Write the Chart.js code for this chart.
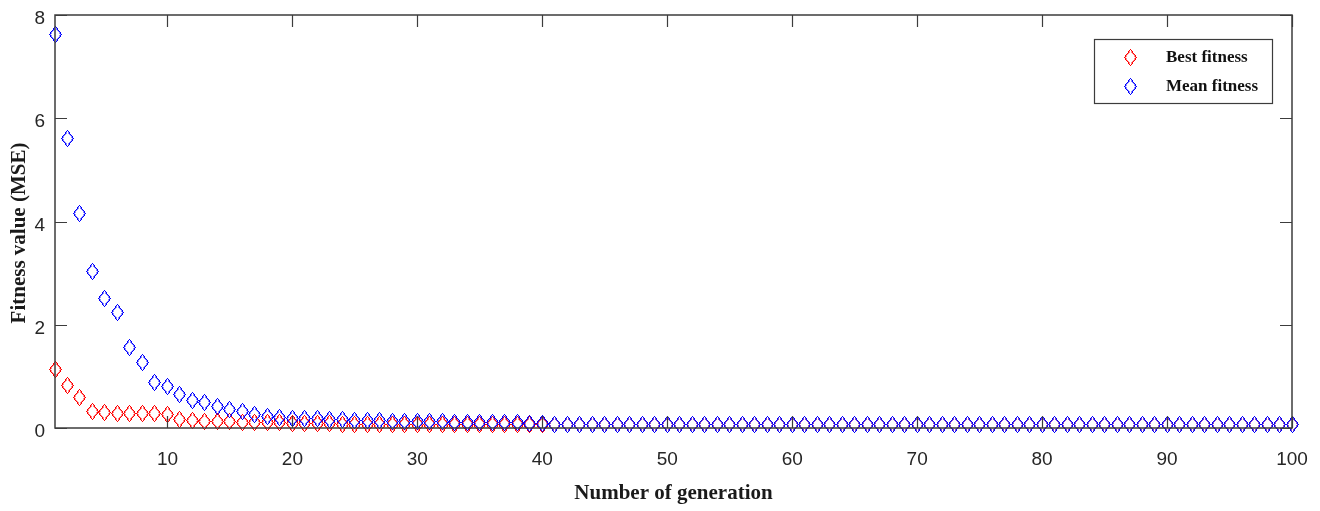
<!DOCTYPE html>
<html lang="en">
<head>
<meta charset="utf-8">
<script src="https://cdn.jsdelivr.net/npm/chart.js@4.4.1/dist/chart.umd.min.js"></script>
<style>
    html, body { margin: 0; padding: 0; background: #fff; }
    #wrap { width: 1320px; height: 511px; }
</style>
</head>
<body>
<div id="wrap">
    <canvas id="content"></canvas>
</div>
<script>
    // fitness per generation
    var bestFitness = [
        1.14, 0.83, 0.60, 0.31, 0.30, 0.29, 0.29, 0.28, 0.28, 0.26,
        0.16, 0.15, 0.13, 0.12, 0.12, 0.11, 0.11, 0.10, 0.10, 0.09,
        0.09, 0.08, 0.08, 0.07, 0.07, 0.06, 0.06, 0.06, 0.06, 0.06,
        0.06, 0.06, 0.06, 0.06, 0.06, 0.06, 0.06, 0.06, 0.06, 0.06,
        0.07, 0.07, 0.07, 0.07, 0.07, 0.07, 0.07, 0.07, 0.07, 0.07,
        0.07, 0.07, 0.07, 0.07, 0.07, 0.07, 0.07, 0.07, 0.07, 0.07,
        0.07, 0.07, 0.07, 0.07, 0.07, 0.07, 0.07, 0.07, 0.07, 0.07,
        0.07, 0.07, 0.07, 0.07, 0.07, 0.07, 0.07, 0.07, 0.07, 0.07,
        0.07, 0.07, 0.07, 0.07, 0.07, 0.07, 0.07, 0.07, 0.07, 0.07,
        0.07, 0.07, 0.07, 0.07, 0.07, 0.07, 0.07, 0.07, 0.07, 0.07
    ];
    var meanFitness = [
        7.63, 5.60, 4.15, 3.04, 2.50, 2.23, 1.55, 1.27, 0.89, 0.81,
        0.64, 0.54, 0.49, 0.41, 0.35, 0.31, 0.26, 0.22, 0.20, 0.19,
        0.18, 0.18, 0.17, 0.16, 0.15, 0.14, 0.14, 0.13, 0.13, 0.12,
        0.12, 0.12, 0.11, 0.11, 0.11, 0.10, 0.10, 0.10, 0.09, 0.08,
        0.07, 0.07, 0.07, 0.07, 0.065, 0.065, 0.065, 0.065, 0.065, 0.065,
        0.065, 0.065, 0.065, 0.065, 0.065, 0.065, 0.065, 0.065, 0.065, 0.065,
        0.065, 0.065, 0.065, 0.065, 0.065, 0.065, 0.065, 0.065, 0.065, 0.065,
        0.065, 0.065, 0.065, 0.065, 0.065, 0.065, 0.065, 0.065, 0.065, 0.065,
        0.065, 0.065, 0.065, 0.065, 0.065, 0.065, 0.065, 0.065, 0.065, 0.065,
        0.065, 0.065, 0.065, 0.065, 0.065, 0.065, 0.065, 0.065, 0.065, 0.065
    ];
    var xTicks = [10, 20, 30, 40, 50, 60, 70, 80, 90, 100];
    var yTicks = [0, 2, 4, 6, 8];
    var seriesNames = ["Best fitness", "Mean fitness"];

    var axisColor = "#3c3c3c";
    var tickFont = "'Liberation Sans Narrow', 'Liberation Sans', Arial, sans-serif";
    var titleFont = "'Liberation Serif', 'Times New Roman', serif";

    // tall matlab-like diamond marker, drawn pixel by pixel so it stays crisp
    function diamond(rgb) {
        var c = document.createElement("canvas");
        c.width = 13;
        c.height = 17;
        var g = c.getContext("2d");
        for (var row = 0; row < 17; row++) {
            var off = Math.round(6 * (1 - Math.abs(row - 8) / 8));
            // soft inner pixel gives the outline a bit more weight
            if (off > 1) {
                g.fillStyle = "rgba(" + rgb + ",0.45)";
                g.fillRect(7 - off, row, 1, 1);
                g.fillRect(5 + off, row, 1, 1);
            }
            g.fillStyle = "rgb(" + rgb + ")";
            g.fillRect(6 - off, row, 1, 1);
            g.fillRect(6 + off, row, 1, 1);
        }
        return c;
    }
    var redMark = diamond("255,0,0");
    var blueMark = diamond("0,0,255");

    function toPoints(arr) {
        var pts = [];
        for (var i = 0; i < arr.length; i++) {
            pts.push({x: i + 1, y: arr[i]});
        }
        return pts;
    }

    // keep the marker images pixel-sharp
    var crispMarks = {
        id: "crispMarks",
        beforeDatasetsDraw: function (chart) {
            chart.ctx.save();
            chart.ctx.imageSmoothingEnabled = false;
        },
        afterDatasetsDraw: function (chart) {
            chart.ctx.restore();
        }
    };

    // box, inward ticks, y title and legend
    var matlabAxes = {
        id: "matlabAxes",
        afterDraw: function (chart) {
            var ctx = chart.ctx;
            var a = chart.chartArea;
            var xs = chart.scales.x, ys = chart.scales.y;
            ctx.save();
            ctx.strokeStyle = axisColor;
            ctx.lineWidth = 1.5;
            ctx.strokeRect(a.left, a.top, a.right - a.left, a.bottom - a.top);
            ctx.lineWidth = 1.2;
            ctx.beginPath();
            xTicks.forEach(function (v) {
                var px = Math.round(xs.getPixelForValue(v)) + 0.5;
                ctx.moveTo(px, a.bottom); ctx.lineTo(px, a.bottom - 12);
                ctx.moveTo(px, a.top); ctx.lineTo(px, a.top + 12);
            });
            yTicks.forEach(function (v) {
                var py = Math.round(ys.getPixelForValue(v)) + 0.5;
                ctx.moveTo(a.left, py); ctx.lineTo(a.left + 12, py);
                ctx.moveTo(a.right, py); ctx.lineTo(a.right - 12, py);
            });
            ctx.stroke();

            // y axis title
            ctx.fillStyle = "#1a1a1a";
            ctx.font = "bold 21px " + titleFont;
            ctx.textAlign = "center";
            ctx.textBaseline = "middle";
            ctx.translate(20, 233);
            ctx.rotate(-Math.PI / 2);
            ctx.fillText("Fitness value (MSE)", 0, 0);
            ctx.restore();

            // legend
            ctx.save();
            ctx.fillStyle = "#fff";
            ctx.fillRect(1094, 39, 178, 64);
            ctx.strokeStyle = axisColor;
            ctx.lineWidth = 1.2;
            ctx.strokeRect(1094.5, 39.5, 178, 64);
            ctx.font = "bold 17px " + titleFont;
            ctx.fillStyle = "#111";
            ctx.textBaseline = "middle";
            var marks = [redMark, blueMark];
            var rows = [57, 86];
            for (var i = 0; i < seriesNames.length; i++) {
                ctx.drawImage(marks[i], 1130 - 6, rows[i] - 8);
                ctx.fillText(chart.data.datasets[i].label, 1166, rows[i] + 1);
            }
            ctx.restore();
        }
    };

    var ctx = document.getElementById("content").getContext("2d");
    new Chart(ctx, {
        type: "scatter",
        data: {
            datasets: [{
                label: seriesNames[0],
                data: toPoints(bestFitness),
                pointStyle: redMark,
                borderColor: "#ff0000",
                backgroundColor: "#ff0000",
                order: 1,
                clip: false
            }, {
                label: seriesNames[1],
                data: toPoints(meanFitness),
                pointStyle: blueMark,
                borderColor: "#0000ff",
                backgroundColor: "#0000ff",
                order: 0,
                clip: false
            }]
        },
        options: {
            responsive: true,
            maintainAspectRatio: false,
            animation: false,
            layout: {padding: {left: 0, right: 28, top: 15, bottom: 0}},
            plugins: {
                legend: {display: false},
                tooltip: {enabled: false}
            },
            scales: {
                x: {
                    type: "linear",
                    min: 1,
                    max: 100,
                    grid: {display: false, drawTicks: false},
                    border: {display: false},
                    afterBuildTicks: function (scale) {
                        scale.ticks = xTicks.map(function (v) { return {value: v}; });
                    },
                    afterFit: function (scale) {
                        scale.height = 83;
                        scale.paddingLeft = 0;
                        scale.paddingRight = 0;
                    },
                    ticks: {
                        padding: 20,
                        color: "#262626",
                        font: {family: tickFont, size: 19},
                        maxRotation: 0
                    },
                    title: {
                        display: true,
                        text: "Number of generation",
                        color: "#1a1a1a",
                        font: {family: titleFont, size: 21, weight: "bold"},
                        padding: {top: 0, bottom: 5}
                    }
                },
                y: {
                    min: 0,
                    max: 8,
                    grid: {display: false, drawTicks: false},
                    border: {display: false},
                    afterBuildTicks: function (scale) {
                        scale.ticks = yTicks.map(function (v) { return {value: v}; });
                    },
                    afterFit: function (scale) {
                        scale.width = 55;
                        scale.paddingTop = 0;
                        scale.paddingBottom = 0;
                    },
                    ticks: {
                        padding: 10,
                        labelOffset: 4,
                        color: "#262626",
                        font: {family: tickFont, size: 19}
                    }
                }
            }
        },
        plugins: [crispMarks, matlabAxes]
    });
</script>
</body>
</html>
